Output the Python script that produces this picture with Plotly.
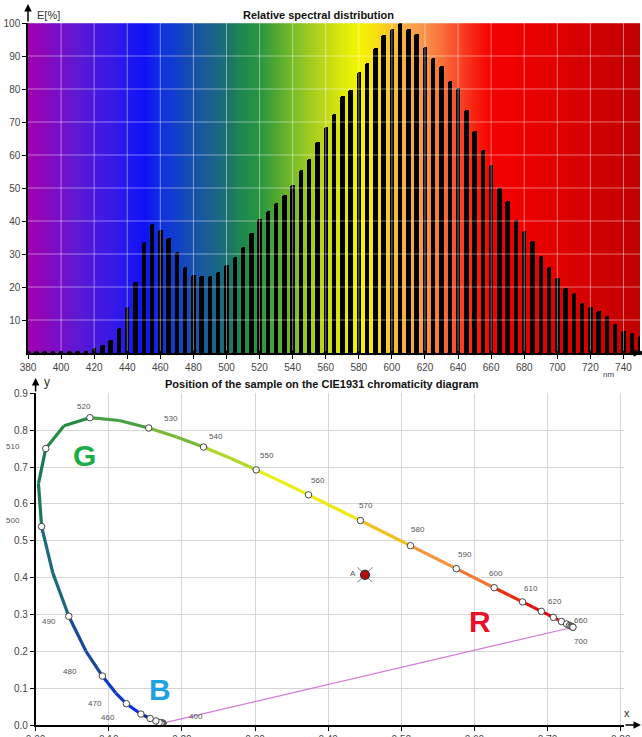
import numpy as np
import plotly.graph_objects as go

W, H = 642, 737
FONT = "Liberation Sans, Arial, sans-serif"

# ---------------- relative spectral distribution (5 nm steps) ----------------
wavelength_nm = list(range(380, 751, 5))
energy_pct = [
    0.3, 0.3, 0.3, 0.3, 0.3, 0.3, 0.3, 0.5,
    1.5, 2.5, 4.0, 7.5, 14.0, 21.5, 33.5, 39.0, 37.2, 34.7, 30.6, 26.2,
    23.5, 23.4, 23.4, 24.6, 26.6, 29.0, 32.2, 36.3, 40.5, 43.0, 45.6, 48.0, 51.0,
    55.5, 58.8, 64.0,
    68.6, 72.4, 77.8, 79.7, 85.2, 88.0, 92.3, 96.3, 98.3, 100.0, 98.2, 96.7,
    92.6, 89.3, 87.0, 82.5, 80.4, 73.6, 67.4, 61.5, 57.0,
    50.0, 46.2, 40.3, 36.9, 33.8, 29.3, 26.2, 22.6, 19.7, 18.1, 15.1, 13.8,
    12.8, 11.1, 8.8, 6.8, 6.0, 5.1,
]
spec_xticks = list(range(380, 741, 20))
spec_yticks = list(range(10, 101, 10))

# colour of the visible spectrum used as plot background
spectrum_stops = [
    (380, "#a000b0"), (390, "#8a08bc"), (400, "#7410c8"), (410, "#5c18d2"),
    (420, "#4818dc"), (430, "#3818e6"), (440, "#2218f0"), (450, "#1010f8"),
    (460, "#1030e0"), (470, "#1040c8"), (480, "#1850aa"), (490, "#1a6090"),
    (500, "#1a7070"), (510, "#1e8a4a"), (520, "#2a9640"), (530, "#50a830"),
    (540, "#78bc28"), (550, "#a0cc20"), (560, "#c0d818"), (570, "#dcea08"),
    (580, "#f4f400"), (590, "#f8e010"), (600, "#f8c030"), (610, "#f8a848"),
    (620, "#f89048"), (630, "#f87038"), (640, "#f84828"), (650, "#f82010"),
    (660, "#f40000"), (680, "#ec0000"), (700, "#e00000"), (720, "#d20000"),
    (750, "#c00000"),
]

# ---------------- CIE 1931 spectral locus ----------------
locus_nm = [380, 390, 400, 410, 420, 430, 440, 450, 460, 470, 475, 480, 485,
            490, 495, 500, 505, 510, 515, 520, 525, 530, 535, 540, 545, 550,
            555, 560, 565, 570, 575, 580, 585, 590, 595, 600, 605, 610, 615,
            620, 625, 630, 635, 640, 645, 650, 660, 670, 680, 690, 700]
locus_x = [0.1741, 0.1738, 0.1733, 0.1726, 0.1714, 0.1689, 0.1644, 0.1566,
           0.1440, 0.1241, 0.1096, 0.0913, 0.0687, 0.0454, 0.0235, 0.0082,
           0.0039, 0.0139, 0.0389, 0.0743, 0.1142, 0.1547, 0.1929, 0.2296,
           0.2658, 0.3016, 0.3373, 0.3731, 0.4087, 0.4441, 0.4788, 0.5125,
           0.5448, 0.5752, 0.6029, 0.6270, 0.6482, 0.6658, 0.6801, 0.6915,
           0.7006, 0.7079, 0.7140, 0.7190, 0.7230, 0.7260, 0.7300, 0.7320,
           0.7334, 0.7344, 0.7347]
locus_y = [0.0050, 0.0049, 0.0048, 0.0048, 0.0051, 0.0069, 0.0109, 0.0177,
           0.0297, 0.0578, 0.0868, 0.1327, 0.2007, 0.2950, 0.4127, 0.5384,
           0.6548, 0.7502, 0.8120, 0.8338, 0.8262, 0.8059, 0.7816, 0.7543,
           0.7243, 0.6923, 0.6589, 0.6245, 0.5896, 0.5547, 0.5202, 0.4866,
           0.4544, 0.4242, 0.3965, 0.3725, 0.3514, 0.3340, 0.3197, 0.3083,
           0.2993, 0.2920, 0.2859, 0.2809, 0.2770, 0.2740, 0.2700, 0.2680,
           0.2666, 0.2656, 0.2653]

# locus line colour per wavelength band (band start, colour)
locus_bands = [
    (380, "#1c1c78"), (450, "#1a28a8"), (460, "#0a2ae0"), (470, "#1038c8"),
    (480, "#1a4898"), (490, "#1a6a78"), (500, "#1a7858"), (510, "#288a40"),
    (520, "#48a040"), (530, "#78b838"), (540, "#b0d828"), (550, "#e8ee10"),
    (560, "#f0e810"), (570, "#f0c020"), (580, "#f09840"), (590, "#f07830"),
    (600, "#e83010"), (610, "#e01010"), (620, "#d80000"),
]

# labelled wavelengths with label offsets in pixels (dx right, dy down)
locus_labels = [
    (400, 34, -7), (460, -33, 3), (470, -31, 0), (480, -32, -5), (490, -20, 5),
    (500, -29, -6), (510, -33, -2), (520, -6, -11), (530, 22, -9),
    (540, 12, -11), (550, 11, -14), (560, 10, -14), (570, 6, -15),
    (580, 8, -16), (590, 9, -14), (600, 2, -14), (610, 8, -13),
    (620, 14, -10), (660, 11, -5), (700, 8, 14),
]

sample_name = "A"
sample_xy = (0.4504, 0.4076)

cie_xticks = [round(0.1 * i, 1) for i in range(9)]
cie_yticks = [round(0.1 * i, 1) for i in range(10)]

# ---------------- layout geometry (pixels -> paper) ----------------
def px(x):
    return x / W

def py(y):
    return 1 - y / H

top_dom_x = [px(28), px(640)]
top_dom_y = [py(353), py(23)]
bot_dom_x = [px(35.6), px(624)]
bot_dom_y = [py(725), py(393.3)]
cie_xmax = 0.8045

fig = go.Figure()

# spectrum background
grid_nm = np.arange(380, 751, 1)
cscale = [[(w - 380) / 370, c] for w, c in spectrum_stops]
fig.add_trace(go.Heatmap(
    x=grid_nm, y=[0, 100], z=[grid_nm, grid_nm], zmin=380, zmax=750,
    colorscale=cscale, showscale=False, zsmooth="best", hoverinfo="skip",
    xaxis="x", yaxis="y"))

# translucent white grid over the spectrum
gx, gy = [], []
for t in spec_xticks[1:]:
    gx += [t, t, None]
    gy += [0, 100, None]
for t in spec_yticks:
    gx += [380, 750, None]
    gy += [t, t, None]
fig.add_trace(go.Scatter(x=gx, y=gy, mode="lines", hoverinfo="skip",
                         line=dict(color="rgba(255,255,255,0.45)", width=1),
                         xaxis="x", yaxis="y", showlegend=False))

# spectral bars
fig.add_trace(go.Bar(x=wavelength_nm, y=energy_pct, width=2.7,
                     marker=dict(color="black", line=dict(width=0), cornerradius=2),
                     xaxis="x", yaxis="y", showlegend=False))
fig.add_trace(go.Scatter(x=wavelength_nm, y=[0] * len(wavelength_nm), mode="markers",
                         marker=dict(color="black", size=4.5), hoverinfo="skip",
                         xaxis="x", yaxis="y", showlegend=False, cliponaxis=False))

# ---------------- CIE diagram ----------------
# purple line
fig.add_trace(go.Scatter(x=[locus_x[0], locus_x[-1]], y=[locus_y[0], locus_y[-1]],
                         mode="lines", line=dict(color="#d27ad8", width=1.2),
                         xaxis="x2", yaxis="y2", showlegend=False, hoverinfo="skip"))

def band_color(nm):
    col = locus_bands[0][1]
    for start, c in locus_bands:
        if nm >= start:
            col = c
    return col

for i in range(len(locus_nm) - 1):
    fig.add_trace(go.Scatter(
        x=[locus_x[i], locus_x[i + 1]], y=[locus_y[i], locus_y[i + 1]],
        mode="lines", line=dict(color=band_color(locus_nm[i]), width=3.2),
        xaxis="x2", yaxis="y2", showlegend=False, hoverinfo="skip"))

mk = [i for i, n in enumerate(locus_nm) if n % 10 == 0]
fig.add_trace(go.Scatter(
    x=[locus_x[i] for i in mk], y=[locus_y[i] for i in mk], mode="markers",
    marker=dict(color="white", size=6.5, line=dict(color="#444", width=1)),
    xaxis="x2", yaxis="y2", showlegend=False, cliponaxis=False))

# sample point
fig.add_trace(go.Scatter(x=[sample_xy[0]], y=[sample_xy[1]], mode="markers",
                         marker=dict(symbol="x-thin", size=15,
                                     line=dict(color="#777", width=1)),
                         xaxis="x2", yaxis="y2", showlegend=False))
fig.add_trace(go.Scatter(x=[sample_xy[0]], y=[sample_xy[1]], mode="markers",
                         marker=dict(color="#b80808", size=9,
                                     line=dict(color="#333", width=1.2)),
                         xaxis="x2", yaxis="y2", showlegend=False))

annotations = []
lab_font = dict(family=FONT, size=8, color="#555")
for nm, dx, dy in locus_labels:
    i = locus_nm.index(nm)
    annotations.append(dict(x=locus_x[i], y=locus_y[i], xref="x2", yref="y2",
                            xanchor="center", yanchor="middle",
                            text=str(nm), showarrow=False, xshift=dx, yshift=-dy,
                            font=lab_font))
annotations.append(dict(x=sample_xy[0], y=sample_xy[1], xref="x2", yref="y2",
                        xanchor="center", yanchor="middle",
                        text=sample_name, showarrow=False, xshift=-12, yshift=1,
                        font=lab_font))

# big region letters
for txt, x, y, c in [("G", 0.0675, 0.731, "#1aae48"),
                     ("B", 0.170, 0.095, "#1ea2e2"),
                     ("R", 0.608, 0.281, "#ea1028")]:
    annotations.append(dict(x=x, y=y, xref="x2", yref="y2", text=f"<b>{txt}</b>",
                            xanchor="center", yanchor="middle", showarrow=False,
                            font=dict(family=FONT, size=30, color=c)))

# titles and axis names
def paper_text(x, y, text, size, color, anchor="center"):
    return dict(x=px(x), y=py(y), xref="paper", yref="paper", text=text,
                xanchor=anchor, yanchor="middle", showarrow=False,
                font=dict(family=FONT, size=size, color=color))

annotations += [
    paper_text(318, 15, "<b>Relative spectral distribution</b>", 11, "#111"),
    paper_text(322, 384, "<b>Position of the sample on the CIE1931 chromaticity diagram</b>",
               11, "#111"),
    paper_text(35, 15, "E[%]", 11, "#333", "left"),
    paper_text(601, 374, "nm", 8, "#444", "left"),
    paper_text(47, 382, "y", 12, "#333"),
    paper_text(627, 713, "x", 11, "#333"),
]

# axis arrows
for tip, ax, ay in [((28, 4), 0, 19), ((641, 353), -12, 0),
                    ((35.6, 378), 0, 15), ((641, 725), -17, 0)]:
    annotations.append(dict(x=px(tip[0]), y=py(tip[1]), xref="paper", yref="paper",
                            ax=ax, ay=ay, axref="pixel", ayref="pixel", text="",
                            showarrow=True, arrowhead=2, arrowsize=1, arrowwidth=1.5,
                            arrowcolor="black"))

tick_font = dict(family=FONT, size=10, color="#444")
common = dict(ticks="outside", ticklen=4, tickcolor="black", zeroline=False,
              showline=True, linecolor="black", linewidth=1.5, tickfont=tick_font,
              fixedrange=True, automargin=False)

fig.update_layout(
    width=W, height=H, margin=dict(l=0, r=0, t=0, b=0, autoexpand=False),
    paper_bgcolor="white", plot_bgcolor="white",
    showlegend=False, bargap=0,
    annotations=annotations,
    xaxis=dict(domain=top_dom_x, range=[380, 750], anchor="y",
               tickvals=spec_xticks, showgrid=False, **common),
    yaxis=dict(domain=top_dom_y, range=[0, 100], anchor="x",
               tickvals=spec_yticks, showgrid=False, **common),
    xaxis2=dict(domain=bot_dom_x, range=[0, cie_xmax], anchor="y2",
                tickvals=cie_xticks, ticktext=[f"{v:.2f}" for v in cie_xticks],
                showgrid=True, gridcolor="#d6d6d6", gridwidth=1, **common),
    yaxis2=dict(domain=bot_dom_y, range=[0, 0.9], anchor="x2",
                tickvals=cie_yticks, ticktext=[f"{v:.1f}" for v in cie_yticks],
                showgrid=True, gridcolor="#d6d6d6", gridwidth=1, **common),
)

fig.write_html("out.html")
